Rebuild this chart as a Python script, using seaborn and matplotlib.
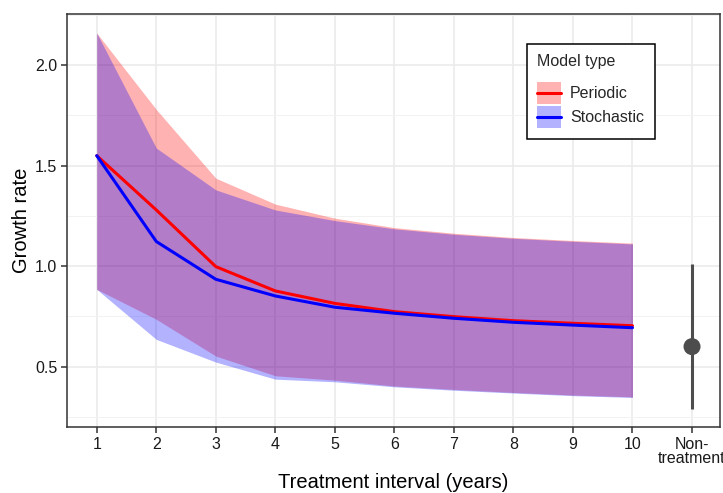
import numpy as np
import pandas as pd
import matplotlib
matplotlib.use("Agg")
import matplotlib.pyplot as plt
import seaborn as sns
from matplotlib.patches import Rectangle
from matplotlib.lines import Line2D
from matplotlib.ticker import MultipleLocator
from matplotlib.legend_handler import HandlerBase

interval = [1, 2, 3, 4, 5, 6, 7, 8, 9, 10]
periodic_mean = [1.55, 1.28, 0.998, 0.877, 0.815, 0.774, 0.749, 0.729, 0.716, 0.704]
periodic_upper = [2.16, 1.78, 1.438, 1.309, 1.239, 1.192, 1.164, 1.143, 1.128, 1.115]
periodic_lower = [0.885, 0.736, 0.553, 0.455, 0.433, 0.404, 0.387, 0.372, 0.359, 0.350]
stochastic_mean = [1.55, 1.123, 0.935, 0.852, 0.796, 0.766, 0.741, 0.721, 0.707, 0.694]
stochastic_upper = [2.16, 1.588, 1.38, 1.28, 1.227, 1.186, 1.159, 1.139, 1.124, 1.111]
stochastic_lower = [0.885, 0.636, 0.523, 0.438, 0.425, 0.400, 0.383, 0.369, 0.356, 0.347]
nontreat_x = [11]
nontreat_mean = [0.60]
nontreat_lower = [0.292]
nontreat_upper = [1.01]
tick_labels = ["1", "2", "3", "4", "5", "6", "7", "8", "9", "10", "Non-\ntreatment"]
model_types = ["Periodic", "Stochastic"]
colors = {"Periodic": "#FF0000", "Stochastic": "#0000FF"}

df = pd.DataFrame({
    "interval": interval * 2,
    "rate": periodic_mean + stochastic_mean,
    "lower": periodic_lower + stochastic_lower,
    "upper": periodic_upper + stochastic_upper,
    "model": ["Periodic"] * 10 + ["Stochastic"] * 10,
})

sns.set_theme(style="whitegrid")
plt.rcParams["font.family"] = ["Liberation Sans", "DejaVu Sans"]

fig = plt.figure(figsize=(7.23, 4.93), dpi=100)
ax = fig.add_axes([67 / 723, 1 - 427 / 493, (720 - 67) / 723, (427 - 14) / 493])
ax.set_facecolor("white")

for m in model_types:
    sub = df[df["model"] == m]
    ax.fill_between(sub["interval"], sub["lower"], sub["upper"],
                    color=colors[m], alpha=0.3, linewidth=0, zorder=2)

sns.lineplot(data=df, x="interval", y="rate", hue="model", palette=colors,
             linewidth=2.2, ax=ax, legend=False, zorder=3)

ax.vlines(nontreat_x, nontreat_lower, nontreat_upper, color="#4D4D4D", linewidth=2.2, zorder=3)
sns.scatterplot(x=nontreat_x, y=nontreat_mean, color="#4D4D4D", s=150, edgecolor="none",
                ax=ax, zorder=4)

ax.set_xlim(0.5, 11.47)
ax.set_ylim(0.2, 2.255)
ax.set_xticks(list(range(1, 12)))
ax.set_xticklabels(tick_labels)
ax.set_yticks([0.5, 1.0, 1.5, 2.0])
ax.set_yticklabels(["0.5", "1.0", "1.5", "2.0"])
ax.yaxis.set_minor_locator(MultipleLocator(0.25))

ax.grid(which="major", color="#EBEBEB", linewidth=1.2, zorder=0)
ax.grid(which="minor", axis="y", color="#F2F2F2", linewidth=0.7, zorder=0)
ax.grid(which="minor", axis="x", visible=False)
ax.set_axisbelow(True)

for s in ax.spines.values():
    s.set_color("#333333")
    s.set_linewidth(1.1)
    s.set_visible(True)

ax.tick_params(axis="both", which="major", direction="out", length=4, width=1.1,
               color="#333333", labelsize=11.5, labelcolor="#1A1A1A", pad=3, bottom=True, left=True)
ax.tick_params(axis="both", which="minor", length=0)
for lbl in ax.get_xticklabels():
    lbl.set_linespacing(0.95)

ax.set_xlabel("Treatment interval (years)", fontsize=14.5, color="black", labelpad=5)
ax.set_ylabel("Growth rate", fontsize=14.5, color="black", labelpad=3)


class KeyHandler(HandlerBase):
    def create_artists(self, legend, orig_handle, xdescent, ydescent, width, height,
                       fontsize, trans):
        c = orig_handle.get_color()
        rect = Rectangle((-xdescent, -ydescent), width, height, facecolor=c, alpha=0.3,
                         edgecolor="none", transform=trans)
        yc = -ydescent + height / 2
        line = Line2D([-xdescent, -xdescent + width], [yc, yc], color=c, linewidth=2.2,
                      transform=trans)
        return [rect, line]


handles = [Line2D([0], [0], color=colors[m]) for m in model_types]
leg = ax.legend(handles, model_types, title="Model type", loc="upper left",
                bbox_to_anchor=((527 - 67) / 653, 1 - (44 - 14) / 413),
                handler_map={Line2D: KeyHandler()},
                frameon=True, fancybox=False, edgecolor="black", framealpha=1,
                fontsize=11.5, title_fontsize=11.5, handlelength=1.45, handleheight=1.74,
                borderpad=0.65, labelspacing=0.15, handletextpad=0.6, borderaxespad=0)
leg.get_frame().set_linewidth(1.1)
leg._legend_box.align = "left"
leg._legend_box.sep = 9

fig.savefig("out.png", dpi=100)
